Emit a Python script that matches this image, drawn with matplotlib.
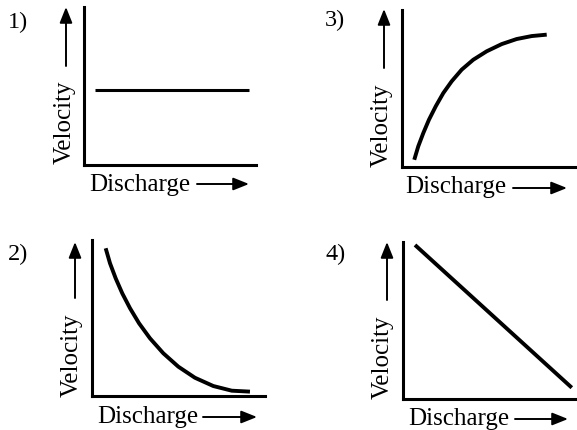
import matplotlib.pyplot as plt
from matplotlib.patches import FancyArrowPatch

plt.rcParams['font.family'] = ['Liberation Serif', 'DejaVu Serif']

W, H = 577, 430

# sketch curves, discharge vs velocity (arbitrary units 0-10)
p1_discharge = [0.64, 9.61]
p1_velocity = [4.76, 4.76]

p2_discharge = [0.79, 1.04, 1.37, 1.75, 2.20, 2.72, 3.35, 4.12, 4.99, 5.95, 7.01, 8.08, 9.13]
p2_velocity = [9.47, 8.51, 7.54, 6.58, 5.62, 4.66, 3.70, 2.74, 1.88, 1.17, 0.64, 0.34, 0.28]

p3_discharge = [0.70, 0.93, 1.22, 1.54, 1.93, 2.36, 2.84, 3.41, 4.07, 4.84, 5.70, 6.55, 7.41, 8.27]
p3_velocity = [0.46, 1.32, 2.17, 3.01, 3.87, 4.71, 5.46, 6.20, 6.83, 7.37, 7.83, 8.15, 8.34, 8.43]

p4_discharge = [0.69, 9.70]
p4_velocity = [9.81, 0.72]

labels = ['1)', '2)', '3)', '4)']
xlabel = 'Discharge'
ylabel = 'Velocity'

fig = plt.figure(figsize=(W / 100, H / 100), dpi=100)


def fx(x):
    return x / W


def fy(y):
    return 1 - y / H


def arrow(x0, y0, x1, y1):
    a = FancyArrowPatch((fx(x0), fy(y0)), (fx(x1), fy(y1)),
                        transform=fig.transFigure,
                        arrowstyle='-|>,head_length=0.95,head_width=0.38',
                        mutation_scale=10, lw=1.4, color='black',
                        shrinkA=0, shrinkB=0)
    fig.add_artist(a)


def panel(box, xs, ys, lw, num, num_pos, vel_pos, up, dis_pos, right):
    left, top, right_edge, bottom = box
    ax = fig.add_axes([fx(left), fy(bottom), (right_edge - left) / W, (bottom - top) / H])
    ax.plot(xs, ys, color='black', lw=lw, solid_capstyle='butt',
            solid_joinstyle='round', clip_on=False)
    ax.set_xlim(0, 10)
    ax.set_ylim(0, 10)
    ax.set_xticks([])
    ax.set_yticks([])
    for s in ['top', 'right']:
        ax.spines[s].set_visible(False)
    for s in ['left', 'bottom']:
        ax.spines[s].set_linewidth(2.2)
        ax.spines[s].set_capstyle('projecting')
    fig.text(fx(num_pos[0]), fy(num_pos[1]), num, fontsize=17.5, ha='left', va='center')
    fig.text(fx(vel_pos[0]), fy(vel_pos[1]), ylabel, fontsize=18, rotation=90,
             ha='center', va='center')
    arrow(*up)
    fig.text(fx(dis_pos[0]), fy(dis_pos[1]), xlabel, fontsize=18, ha='left', va='baseline')
    arrow(*right)


panel((84, 7, 256, 165), p1_discharge, p1_velocity, 2.2, labels[0],
      (8, 22), (65, 122), (66, 66, 66, 7), (89, 191), (197, 184, 249, 184))
panel((92, 240, 265, 396), p2_discharge, p2_velocity, 2.8, labels[1],
      (8, 254), (72, 355), (75, 298, 75, 242), (97, 423), (203, 417, 257, 417))
panel((402, 10, 577, 167), p3_discharge, p3_velocity, 2.8, labels[2],
      (325, 20), (382, 125), (384, 68, 384, 9), (405, 193), (513, 188, 567, 188))
panel((403, 242, 577, 399), p4_discharge, p4_velocity, 2.8, labels[3],
      (326, 254), (383, 357), (387, 300, 387, 242), (408, 425), (515, 419, 568, 419))

fig.savefig('out.png', dpi=100)
